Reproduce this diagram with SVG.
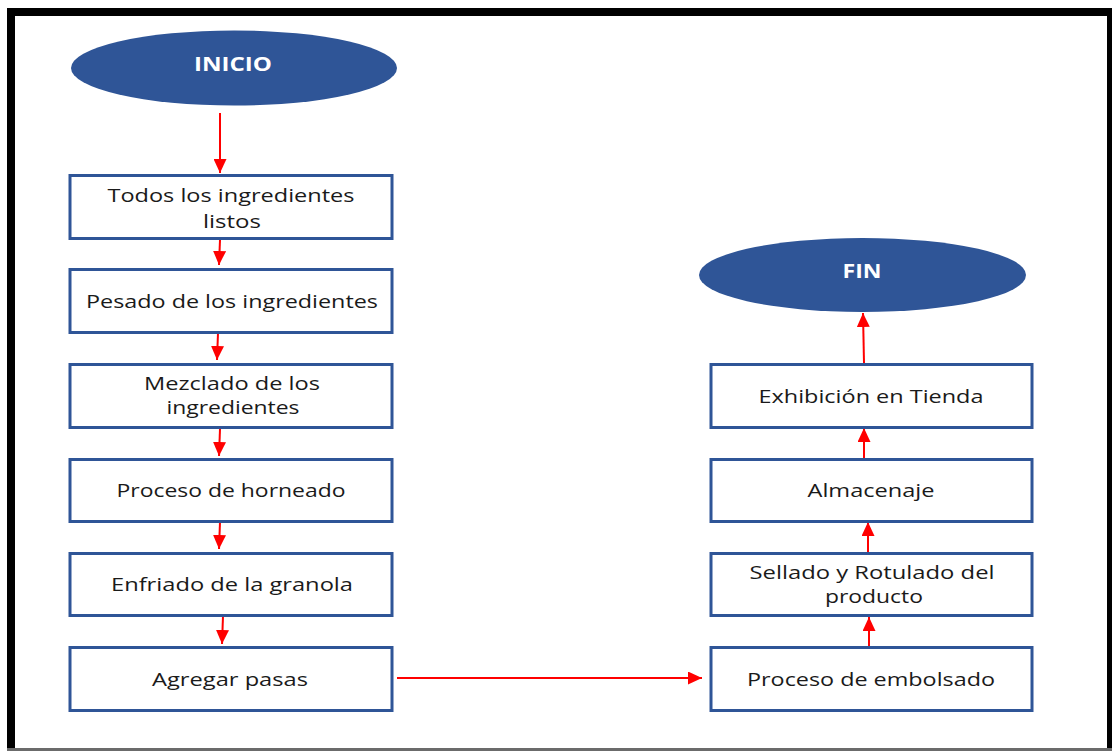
<svg xmlns="http://www.w3.org/2000/svg" width="1112" height="751" viewBox="0 0 1112 751">
<style>
.box{fill:#ffffff;stroke:#2F5597;stroke-width:3}
.term{fill:#2F5597}
.lbl{font-family:"Open Sans","Noto Sans",sans-serif;font-size:18.5px;fill:#1a1a1a;text-anchor:middle}
.tl{font-family:"Open Sans","Noto Sans",sans-serif;font-size:19px;font-weight:bold;fill:#ffffff;text-anchor:middle}
.con{stroke:#FF0000;stroke-width:2;fill:none;marker-end:url(#ah)}
</style>
<defs>
<marker id="ah" markerUnits="userSpaceOnUse" viewBox="0 0 14 13" refX="14" refY="6.5" markerWidth="14" markerHeight="13" orient="auto">
<path d="M0,0 L14,6.5 L0,13 z" fill="#FF0000"/>
</marker>
</defs>
<rect x="0" y="0" width="1112" height="751" fill="#ffffff"/>
<path d="M11,751 L11,12 L1112,12" fill="none" stroke="#000000" stroke-width="8"/>
<rect x="1107" y="8" width="5" height="743" fill="#000000"/>
<rect x="7" y="748" width="1105" height="3" fill="#6b6b6b"/>

<g id="connectors">
<line class="con" x1="220" y1="113" x2="220" y2="173"/>
<line class="con" x1="220" y1="240" x2="219" y2="265"/>
<line class="con" x1="218" y1="333" x2="217" y2="360"/>
<line class="con" x1="220" y1="429" x2="219" y2="456"/>
<line class="con" x1="220" y1="522" x2="219" y2="549"/>
<line class="con" x1="223" y1="616" x2="222" y2="644"/>
<line class="con" x1="397" y1="678" x2="702" y2="678"/>
<line class="con" x1="869" y1="646" x2="869" y2="617"/>
<line class="con" x1="868" y1="552" x2="868" y2="522"/>
<line class="con" x1="864" y1="458" x2="864" y2="428"/>
<line class="con" x1="864" y1="363" x2="863" y2="313"/>
</g>

<g id="inicio">
<ellipse class="term" cx="234" cy="68" rx="163" ry="37.5"/>
<text class="tl" x="233" y="71" textLength="78" lengthAdjust="spacingAndGlyphs">INICIO</text>
</g>
<g id="todos">
<rect class="box" x="70" y="175.5" width="322" height="63"/>
<text class="lbl" x="231" y="202" textLength="247" lengthAdjust="spacingAndGlyphs">Todos los ingredientes</text>
<text class="lbl" x="232" y="228" textLength="58" lengthAdjust="spacingAndGlyphs">listos</text>
</g>
<g id="pesado">
<rect class="box" x="70" y="269.5" width="322" height="63"/>
<text class="lbl" x="232" y="308" textLength="292" lengthAdjust="spacingAndGlyphs">Pesado de los ingredientes</text>
</g>
<g id="mezclado">
<rect class="box" x="70" y="364.5" width="322" height="63"/>
<text class="lbl" x="232" y="390" textLength="176" lengthAdjust="spacingAndGlyphs">Mezclado de los</text>
<text class="lbl" x="233" y="414" textLength="133" lengthAdjust="spacingAndGlyphs">ingredientes</text>
</g>
<g id="horneado">
<rect class="box" x="70" y="459.5" width="322" height="62"/>
<text class="lbl" x="231" y="497" textLength="229" lengthAdjust="spacingAndGlyphs">Proceso de horneado</text>
</g>
<g id="enfriado">
<rect class="box" x="70" y="553.5" width="322" height="62"/>
<text class="lbl" x="232" y="591" textLength="242" lengthAdjust="spacingAndGlyphs">Enfriado de la granola</text>
</g>
<g id="agregar">
<rect class="box" x="70" y="647.5" width="322" height="63"/>
<text class="lbl" x="230" y="686" textLength="156" lengthAdjust="spacingAndGlyphs">Agregar pasas</text>
</g>

<g id="fin">
<ellipse class="term" cx="862.5" cy="275" rx="163.5" ry="37"/>
<text class="tl" x="862" y="278" textLength="39" lengthAdjust="spacingAndGlyphs">FIN</text>
</g>
<g id="exhibicion">
<rect class="box" x="711" y="364.5" width="321" height="63"/>
<text class="lbl" x="871" y="403" textLength="225" lengthAdjust="spacingAndGlyphs">Exhibición en Tienda</text>
</g>
<g id="almacenaje">
<rect class="box" x="711" y="459.5" width="321" height="62"/>
<text class="lbl" x="871" y="497" textLength="127" lengthAdjust="spacingAndGlyphs">Almacenaje</text>
</g>
<g id="sellado">
<rect class="box" x="711" y="553.5" width="321" height="62"/>
<text class="lbl" x="872" y="579" textLength="245" lengthAdjust="spacingAndGlyphs">Sellado y Rotulado del</text>
<text class="lbl" x="874" y="603" textLength="98" lengthAdjust="spacingAndGlyphs">producto</text>
</g>
<g id="embolsado">
<rect class="box" x="711" y="647.5" width="321" height="63"/>
<text class="lbl" x="871" y="686" textLength="248" lengthAdjust="spacingAndGlyphs">Proceso de embolsado</text>
</g>
</svg>
